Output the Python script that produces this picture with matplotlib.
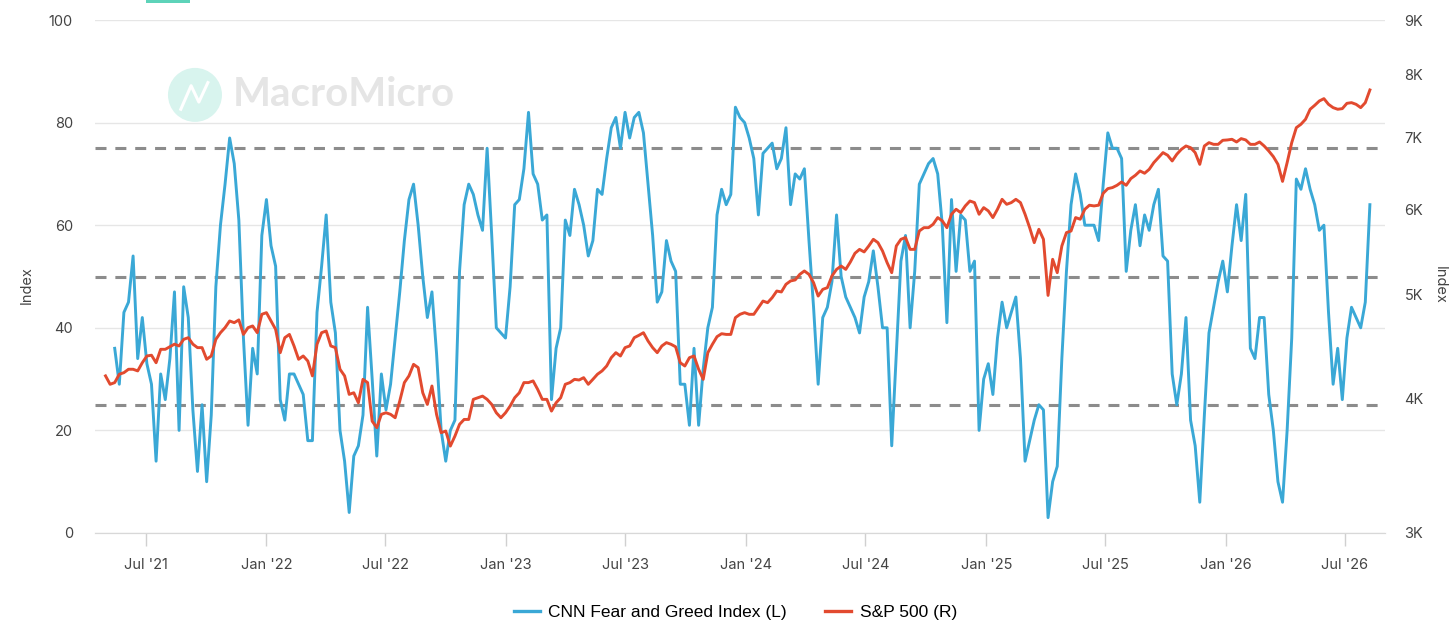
import matplotlib
matplotlib.use('Agg')
import matplotlib.pyplot as plt
import matplotlib.dates as mdates
import matplotlib.patches as mpatches
from matplotlib.lines import Line2D
from matplotlib.ticker import FixedLocator, NullLocator
import pandas as pd

# ---------- data (weekly) ----------
fg_vals = [
    36, 29, 43, 45, 54, 34, 42, 33, 29, 14,
    31, 26, 34, 47, 20, 48, 42, 24, 12, 25,
    10, 23, 48, 60, 68, 77, 72, 61, 38, 21,
    36, 31, 58, 65, 56, 52, 26, 22, 31, 31,
    29, 27, 18, 18, 43, 52, 62, 45, 39, 20,
    14, 4, 15, 17, 23, 44, 30, 15, 31, 24,
    29, 38, 47, 57, 65, 68, 60, 50, 42, 47,
    35, 20, 14, 20, 22, 51, 64, 68, 66, 62,
    59, 75, 58, 40, 39, 38, 48, 64, 65, 71,
    82, 70, 68, 61, 62, 26, 36, 40, 61, 58,
    67, 64, 60, 54, 57, 67, 66, 73, 79, 81,
    75, 82, 77, 81, 82, 78, 68, 58, 45, 47,
    57, 53, 51, 29, 29, 21, 36, 21, 32, 40,
    44, 62, 67, 64, 66, 83, 81, 80, 77, 73,
    62, 74, 75, 76, 71, 73, 79, 64, 70, 69,
    71, 57, 44, 29, 42, 44, 49, 62, 50, 46,
    44, 42, 39, 46, 49, 55, 48, 40, 40, 17,
    35, 53, 58, 40, 51, 68, 70, 72, 73, 70,
    60, 41, 65, 51, 62, 61, 51, 53, 20, 30,
    33, 27, 38, 45, 40, 43, 46, 34, 14, 18,
    22, 25, 24, 3, 10, 13, 34, 51, 64, 70,
    66, 60, 60, 60, 57, 68, 78, 75, 75, 73,
    51, 59, 64, 56, 62, 59, 64, 67, 54, 53,
    31, 25, 31, 42, 22, 17, 6, 23, 39, 44,
    49, 53, 47, 56, 64, 57, 66, 36, 34, 42,
    42, 27, 20, 10, 6, 20, 38, 69, 67, 71,
    67, 64, 59, 60, 43, 29, 36, 26, 38, 44,
    42, 40, 45, 64,
]
spx_vals = [
    4200, 4125, 4140, 4215, 4229, 4260, 4260, 4245, 4320, 4383,
    4390, 4320, 4446, 4446, 4470, 4495, 4478, 4542, 4558, 4495,
    4462, 4462, 4352, 4383, 4542, 4607, 4657, 4724, 4707, 4735,
    4590, 4657, 4674, 4607, 4792, 4809, 4724, 4640, 4414, 4558,
    4590, 4478, 4352, 4383, 4336, 4200, 4494, 4607, 4624, 4478,
    4462, 4260, 4200, 4037, 4051, 3965, 4169, 4140, 3812, 3759,
    3868, 3881, 3868, 3840, 3980, 4140, 4200, 4305, 4275, 4051,
    3951, 4110, 3868, 3719, 3732, 3614, 3692, 3786, 3826, 3826,
    3994, 4008, 4022, 3994, 3951, 3881, 3840, 3881, 3937, 4008,
    4051, 4140, 4140, 4155, 4080, 3994, 3994, 3895, 3965, 4008,
    4125, 4140, 4169, 4163, 4184, 4125, 4169, 4215, 4245, 4290,
    4367, 4414, 4383, 4462, 4478, 4558, 4581, 4607, 4526, 4462,
    4414, 4478, 4510, 4494, 4470, 4320, 4290, 4367, 4383, 4260,
    4169, 4414, 4494, 4568, 4597, 4590, 4590, 4758, 4792, 4809,
    4792, 4792, 4860, 4930, 4913, 4966, 5037, 5027, 5110, 5147,
    5158, 5220, 5258, 5220, 5128, 4983, 5055, 5073, 5202, 5276,
    5314, 5276, 5360, 5461, 5507, 5477, 5547, 5627, 5587, 5488,
    5352, 5239, 5547, 5627, 5648, 5507, 5507, 5728, 5769, 5769,
    5811, 5895, 5853, 5769, 5937, 6001, 5958, 6044, 6108, 6087,
    5937, 6022, 5980, 5895, 6001, 6130, 6065, 6087, 6130, 6087,
    5937, 5769, 5587, 5749, 5627, 4990, 5391, 5239, 5547, 5708,
    5728, 5895, 5874, 6001, 6053, 6044, 6053, 6210, 6272, 6286,
    6317, 6362, 6317, 6408, 6454, 6514, 6482, 6537, 6631, 6703,
    6775, 6737, 6655, 6751, 6823, 6872, 6847, 6775, 6607, 6872,
    6921, 6896, 6896, 6956, 6961, 6971, 6931, 6981, 6961, 6896,
    6896, 6931, 6872, 6799, 6717, 6607, 6370, 6631, 6921, 7147,
    7199, 7276, 7434, 7497, 7567, 7605, 7513, 7460, 7434, 7444,
    7529, 7540, 7513, 7460, 7540, 7748,
]
fg_dates = pd.date_range('2021-05-15', periods=len(fg_vals), freq='7D')
spx_dates = pd.date_range('2021-05-01', periods=len(spx_vals), freq='7D')

left_ticks = [0, 20, 40, 60, 80, 100]
right_ticks = [3000, 4000, 5000, 6000, 7000, 8000, 9000]
right_labels = ['3K', '4K', '5K', '6K', '7K', '8K', '9K']
x_ticks = pd.date_range('2021-07-01', '2026-07-01', freq='6MS')
band_levels = [25, 50, 75]

BLUE = '#3aa8d6'
RED = '#e24a2f'
TXT = '#444444'

plt.rcParams['font.family'] = ['Inter', 'DejaVu Sans']

fig = plt.figure(figsize=(14.56, 6.24), dpi=100)
ax = fig.add_axes([95 / 1456, 1 - 533 / 624, 1290 / 1456, 513 / 624])
ax2 = ax.twinx()

# ---- watermark ----
ax.add_patch(mpatches.Ellipse((0.0775, 0.854), 54 / 1290, 54 / 513, transform=ax.transAxes,
                              color='#d8f4ee', zorder=0.2, lw=0))
ax.add_line(Line2D([0.0665, 0.0745, 0.0805, 0.0875], [0.826, 0.872, 0.840, 0.878],
                   transform=ax.transAxes, color='white', lw=2.2, zorder=0.3))
ax.text(0.107, 0.854, 'MacroMicro', transform=ax.transAxes, ha='left', va='center',
        fontsize=29, fontweight='bold', color='#e5e5e5', family=['Lato', 'DejaVu Sans'], zorder=0.2)
fig.add_artist(mpatches.Rectangle((146 / 1456, 1 - 3 / 624), 44 / 1456, 3 / 624,
                                  transform=fig.transFigure, color='#5dd3b9', lw=0))

# ---- series ----
for lv in band_levels:
    ax.axhline(lv, color='#8c8c8c', lw=2.2, dashes=(3.6, 2.9), zorder=1)
ax.plot(fg_dates, fg_vals, color=BLUE, lw=2.1, zorder=2)
ax2.plot(spx_dates, spx_vals, color=RED, lw=2.1, zorder=2)

# ---- left axis ----
ax.set_ylim(0, 100)
ax.set_yticks(left_ticks)
ax.grid(axis='y', color='#e6e6e6', lw=1)
ax.set_axisbelow(True)
ax.tick_params(axis='y', length=0, pad=16, labelsize=10.5, labelcolor=TXT)
ax.set_ylabel('Index', color=TXT, fontsize=10.5, ha='center', va='center')
ax.yaxis.set_label_coords(-0.0527, 0.483)

# ---- x axis ----
ax.set_xlim(pd.Timestamp('2021-04-15'), pd.Timestamp('2026-08-31'))
ax.set_xticks(x_ticks)
ax.xaxis.set_major_formatter(mdates.DateFormatter("%b '%y"))
ax.tick_params(axis='x', length=9, width=1, color='#d0d0d0', pad=9, labelsize=10.5, labelcolor=TXT)

# ---- right axis ----
ax2.set_yscale('log')
ax2.set_ylim(3000, 9000)
ax2.yaxis.set_major_locator(FixedLocator(right_ticks))
ax2.yaxis.set_minor_locator(NullLocator())
ax2.set_yticklabels(right_labels)
ax2.tick_params(axis='y', length=0, pad=14, labelsize=10.5, labelcolor=TXT)
ax2.set_ylabel('Index', color=TXT, fontsize=10.5, rotation=-90, ha='center', va='center')
ax2.yaxis.set_label_coords(1.0426, 0.483)

for a in (ax, ax2):
    for s in ('top', 'left', 'right'):
        a.spines[s].set_visible(False)
    a.spines['bottom'].set_color('#d8d8d8')

# ---- legend ----
handles = [Line2D([], [], color=BLUE, lw=2.4), Line2D([], [], color=RED, lw=2.4)]
labels = ['CNN Fear and Greed Index (L)', 'S&P 500 (R)']
fig.legend(handles, labels, loc='center', bbox_to_anchor=(0.505, 0.019), ncol=2, frameon=False,
           handlelength=1.5, handletextpad=0.5, columnspacing=2.2,
           prop={'family': ['Liberation Sans', 'DejaVu Sans'], 'size': 12.5})

fig.savefig('out.png', dpi=100, facecolor='white')
